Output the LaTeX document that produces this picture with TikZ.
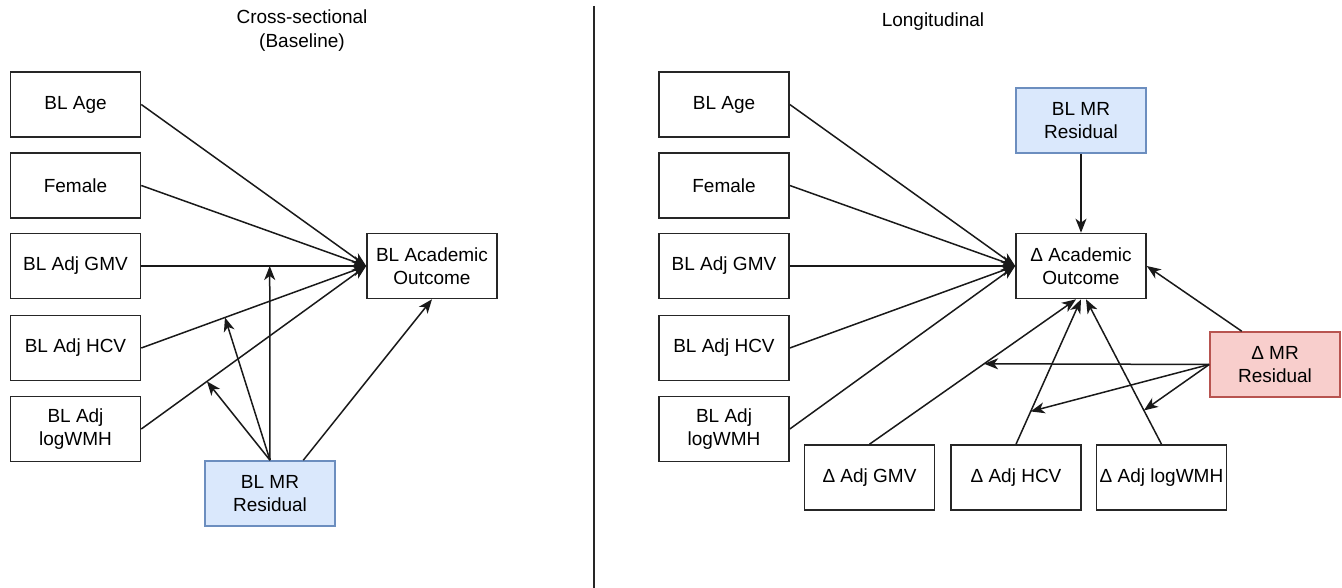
\documentclass[tikz,border=0pt]{standalone}
\usepackage{fontspec}
\setmainfont{Liberation Sans}
\usetikzlibrary{arrows.meta,calc}
\definecolor{bluefill}{HTML}{DAE8FC}
\definecolor{blueline}{HTML}{6C8EBF}
\definecolor{redfill}{HTML}{F8CECC}
\definecolor{redline}{HTML}{B85450}
\begin{document}
\begin{tikzpicture}[x=1pt,y=-1pt,
  varbox/.style={draw=black!85, line width=1.6pt, minimum width=130pt, minimum height=65pt,
    inner sep=0pt, align=center, font=\fontsize{19}{23}\selectfont},
  bluebox/.style={varbox, draw=blueline, fill=bluefill},
  redbox/.style={varbox, draw=redline, fill=redfill},
  titletext/.style={align=center, font=\fontsize{19}{24}\selectfont},
  conn/.style={line width=1.5pt, black!90, -{Stealth[length=14pt,width=11pt,inset=4pt]}},
  divider/.style={line width=1.5pt, black!85}]
\useasboundingbox (0,0) rectangle (1342,588);

% titles and divider
\node[titletext] (tL) at (302,31) {Cross-sectional\\(Baseline)};
\node[titletext] (tR) at (933,22) {Longitudinal};
\coordinate (dtop) at (594,6);
\coordinate (dbot) at (594,588);
\draw[divider] (dtop) -- (dbot);

% left panel
\node[varbox] (ageL) at (75.5,104.5) {BL Age};
\node[varbox] (femL) at (75.5,185.5) {Female};
\node[varbox] (gmvL) at (75.5,266) {BL Adj GMV};
\node[varbox] (hcvL) at (75.5,348) {BL Adj HCV};
\node[varbox] (wmhL) at (75.5,429) {BL Adj\\logWMH};
\node[varbox] (outL) at (432,266) {BL Academic\\Outcome};
\node[bluebox] (blmrL) at (270,493.5) {BL MR\\Residual};

\foreach \s in {ageL,femL,gmvL,hcvL,wmhL}{\draw[conn] (\s.east) -- (outL.west);}
\path (gmvL.east) -- (outL.west) coordinate[pos=0.571] (mgL);
\path (hcvL.east) -- (outL.west) coordinate[pos=0.372] (mhL);
\path (wmhL.east) -- (outL.west) coordinate[pos=0.292] (mwL);
\draw[conn] (blmrL.north) -- (mgL);
\draw[conn] (blmrL.north) -- (mhL);
\draw[conn] (blmrL.north) -- (mwL);
\draw[conn] (blmrL.45) -- (outL.south);

% right panel
\node[varbox] (ageR) at (724,104.5) {BL Age};
\node[varbox] (femR) at (724,185.5) {Female};
\node[varbox] (gmvR) at (724,266) {BL Adj GMV};
\node[varbox] (hcvR) at (724,348) {BL Adj HCV};
\node[varbox] (wmhR) at (724,429) {BL Adj\\logWMH};
\node[bluebox] (blmrR) at (1081,120.5) {BL MR\\Residual};
\node[varbox] (outR) at (1081,266) {Δ Academic\\Outcome};
\node[redbox] (dmr) at (1275,364.5) {Δ MR\\Residual};
\node[varbox] (dgmv) at (869.5,477.5) {Δ Adj GMV};
\node[varbox] (dhcv) at (1016,477.5) {Δ Adj HCV};
\node[varbox] (dwmh) at (1161.5,477.5) {Δ Adj logWMH};

\foreach \s in {ageR,femR,gmvR,hcvR,wmhR}{\draw[conn] (\s.east) -- (outR.west);}
\draw[conn] (blmrR.south) -- (outR.north);
\draw[conn] (dmr.135) -- (outR.east);
\coordinate (oR1) at ($(outR.south)+(-5,0)$);
\coordinate (oR2) at (outR.south);
\coordinate (oR3) at ($(outR.south)+(5,0)$);
\draw[conn] (dgmv.north) -- (oR1);
\draw[conn] (dhcv.north) -- (oR2);
\draw[conn] (dwmh.north) -- (oR3);
\path (dgmv.north) -- (oR1) coordinate[pos=0.555] (mgR);
\path (dhcv.north) -- (oR2) coordinate[pos=0.226] (mhR);
\path (dwmh.north) -- (oR3) coordinate[pos=0.233] (mwR);
\draw[conn] (dmr.west) -- (mgR);
\draw[conn] (dmr.west) -- (mhR);
\draw[conn] (dmr.west) -- (mwR);
\end{tikzpicture}
\end{document}
